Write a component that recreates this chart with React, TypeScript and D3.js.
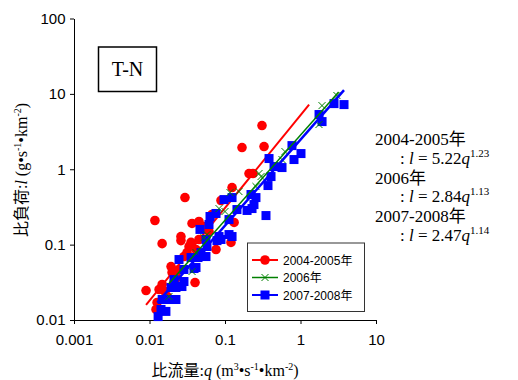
import React, { useRef, useEffect } from 'react';
import * as d3 from 'd3';

// ---- data ----
const seriesNames = ['2004-2005年', '2006年', '2007-2008年'];
const seriesColors = ['#FF0000', '#008000', '#0000FF'];

const redQ = [0.009, 0.0118, 0.0147, 0.0261, 0.0261, 0.0295, 0.0366, 0.0334, 0.0401, 0.168, 0.309, 0.329, 0.208, 0.235, 0.124, 0.0885, 0.0673, 0.0452, 0.0527, 0.0614, 0.132, 0.12, 0.076, 0.0193, 0.0199, 0.0147, 0.0134, 0.0126, 0.0122, 0.0314, 0.0286, 0.0246, 0.0231, 0.0171, 0.0355, 0.0413, 0.0211, 0.016, 0.0452];
const redL = [0.0246, 0.209, 0.103, 0.128, 0.113, 0.421, 0.191, 0.094, 0.0314, 1.94, 3.8, 2.0, 0.877, 0.877, 0.572, 0.385, 0.251, 0.203, 0.174, 0.149, 0.197, 0.107, 0.086, 0.0512, 0.0427, 0.0296, 0.0254, 0.0171, 0.0138, 0.0785, 0.0695, 0.0468, 0.0366, 0.0205, 0.107, 0.086, 0.0314, 0.0239, 0.117];

const greenQ = [0.0181, 0.0366, 0.0413, 0.0527, 0.0577, 0.0833, 0.1, 0.1165, 0.153, 0.257, 0.282, 0.3, 0.569, 0.623, 1.758, 1.927, 3.04];
const greenL = [0.0205, 0.044, 0.0785, 0.124, 0.136, 0.301, 0.275, 0.491, 0.506, 0.59, 0.877, 0.8, 1.345, 1.717, 3.92, 6.99, 9.5];

const blueQ = [2.78, 3.77, 1.76, 1.93, 0.771, 1.015, 0.82, 0.383, 0.569, 0.446, 0.407, 0.371, 0.221, 0.242, 0.196, 0.349, 0.257, 0.228, 0.144, 0.097, 0.124, 0.113, 0.113, 0.076, 0.0633, 0.0614, 0.0833, 0.0783, 0.0577, 0.0466, 0.0481, 0.056, 0.056, 0.0885, 0.124, 0.0413, 0.0246, 0.0286, 0.0355, 0.0211, 0.0286, 0.0269, 0.0224, 0.0147, 0.0181, 0.0224, 0.0142, 0.0165, 0.013, 0.0439, 0.0389, 0.0193];
const blueL = [7.43, 7.21, 5.32, 4.29, 2.06, 1.615, 1.345, 1.387, 1.053, 1.086, 0.8, 0.608, 0.462, 0.34, 0.284, 0.243, 0.421, 0.301, 0.292, 0.396, 0.421, 0.215, 0.136, 0.259, 0.236, 0.185, 0.128, 0.113, 0.0944, 0.159, 0.0785, 0.117, 0.0695, 0.117, 0.128, 0.0497, 0.0634, 0.0468, 0.0674, 0.0344, 0.0324, 0.0278, 0.027, 0.0187, 0.0187, 0.0187, 0.0138, 0.013, 0.0111, 0.0674, 0.0482, 0.027];

// power-law fits l = a q^b
const fitA = [5.22, 2.84, 2.47];
const fitB = [1.23, 1.13, 1.14];
const fitQmin = [0.009, 0.018, 0.0127];
const fitQmax = [1.3, 3.2, 3.77];

const xTickValues = [0.001, 0.01, 0.1, 1, 10];
const xTickLabels = ['0.001', '0.01', '0.1', '1', '10'];
const yTickValues = [0.01, 0.1, 1, 10, 100];
const yTickLabels = ['0.01', '0.1', '1', '10', '100'];

const SANS = '"Liberation Sans", Arial, "Noto Sans CJK JP", sans-serif';
const SERIF = '"Liberation Serif", "Times New Roman", "Noto Sans CJK JP", serif';

export default function App() {
  const gx = useRef<SVGGElement>(null);
  const gy = useRef<SVGGElement>(null);

  const x = d3.scaleLog().domain([0.001, 10]).range([74, 376]);
  const y = d3.scaleLog().domain([0.01, 100]).range([320, 18.5]);

  useEffect(() => {
    const ax = d3.axisBottom(x).tickValues(xTickValues)
      .tickFormat((d, i) => xTickLabels[i]).tickSize(4).tickSizeOuter(0).tickPadding(10.5);
    const gX = d3.select(gx.current!);
    gX.call(ax as any);
    gX.attr('font-family', SANS).attr('font-size', 15);
    gX.selectAll('path,line').attr('stroke', '#000');
    gX.selectAll('text').attr('fill', '#000');

    const ay = d3.axisLeft(y).tickValues(yTickValues)
      .tickFormat((d, i) => yTickLabels[i]).tickSize(4).tickSizeOuter(0).tickPadding(4.5);
    const gY = d3.select(gy.current!);
    gY.call(ay as any);
    gY.attr('font-family', SANS).attr('font-size', 15);
    gY.selectAll('path,line').attr('stroke', '#000');
    gY.selectAll('text').attr('fill', '#000');
  }, []);

  const line = d3.line<[number, number]>().x(d => x(d[0])).y(d => y(d[1]));
  const fitPath = (i: number) => line([fitQmin[i], fitQmax[i]].map(q => [q, fitA[i] * Math.pow(q, fitB[i])] as [number, number]));

  const circle = (cx: number, cy: number, key: any, r = 4.8) => (
    <circle key={key} cx={cx} cy={cy} r={r} fill="#FF0000" />
  );
  const square = (cx: number, cy: number, key: any, s = 9) => (
    <rect key={key} x={cx - s / 2} y={cy - s / 2} width={s} height={s} fill="#0000FF" />
  );
  const cross = (cx: number, cy: number, key: any, s = 3.5) => (
    <path key={key} d={`M${cx - s},${cy - s}L${cx + s},${cy + s}M${cx - s},${cy + s}L${cx + s},${cy - s}`} stroke="#008000" strokeWidth={1} fill="none" />
  );

  const legendRows = [260, 277.5, 295];

  return (
    <svg width={518} height={380} style={{ position: 'absolute', left: 0, top: 0, background: '#fff' }}>
      <rect width={518} height={380} fill="#fff" />
      <g ref={gx} transform="translate(0,320)" />
      <g ref={gy} transform="translate(74,0)" />

      {/* red series */}
      {redQ.map((q, i) => circle(x(q), y(redL[i]), 'r' + i))}
      <path d={fitPath(0) || ''} stroke={seriesColors[0]} strokeWidth={2} fill="none" />
      {/* blue series */}
      {blueQ.map((q, i) => square(x(q), y(blueL[i]), 'b' + i))}
      {/* green series */}
      {greenQ.map((q, i) => cross(x(q), y(greenL[i]), 'g' + i))}
      <path d={fitPath(1) || ''} stroke={seriesColors[1]} strokeWidth={1.5} fill="none" />
      <path d={fitPath(2) || ''} stroke={seriesColors[2]} strokeWidth={2.5} fill="none" />

      {/* T-N box */}
      <rect x={98.5} y={47} width={58} height={44.5} fill="#fff" stroke="#000" strokeWidth={1.5} />
      <text x={127.5} y={76} textAnchor="middle" fontFamily={SERIF} fontSize={20}>T-N</text>

      {/* legend */}
      <rect x={247.5} y={243} width={117} height={68.5} fill="#fff" stroke="#333" strokeWidth={1} />
      {legendRows.map((ly, i) => (
        <g key={'lg' + i}>
          <line x1={252} x2={278} y1={ly} y2={ly} stroke={seriesColors[i]} strokeWidth={i === 1 ? 1.5 : 2} />
          {i === 0 && circle(265, ly, 'lc', 4.8)}
          {i === 1 && cross(265, ly, 'lx', 3.5)}
          {i === 2 && square(265, ly, 'ls', 9)}
          <text x={283} y={ly + 4.5} fontFamily={SANS} fontSize={12} fill="#000">{seriesNames[i]}</text>
        </g>
      ))}

      {/* equations */}
      {seriesNames.map((name, i) => (
        <g key={'eq' + i} fontFamily={SERIF} fontSize={17} fill="#000">
          <text x={375} y={145 + i * 38.5}>{name}</text>
          <text x={400} y={163.5 + i * 38.5}>
            {': '}<tspan fontStyle="italic">l</tspan>{' = ' + fitA[i].toFixed(2)}<tspan fontStyle="italic">q</tspan>
            <tspan fontSize={11} dy={-7}>{fitB[i].toFixed(2)}</tspan>
          </text>
        </g>
      ))}

      {/* axis titles */}
      <text x={225} y={376} textAnchor="middle" fontFamily={SERIF} fontSize={16} fill="#000">
        比流量:<tspan fontStyle="italic">q</tspan> (m<tspan fontSize={10} dy={-6}>3</tspan><tspan dy={6}>•s</tspan><tspan fontSize={10} dy={-6}>-1</tspan><tspan dy={6}>•km</tspan><tspan fontSize={10} dy={-6}>-2</tspan><tspan dy={6}>)</tspan>
      </text>
      <text transform="translate(27,170) rotate(-90)" textAnchor="middle" fontFamily={SERIF} fontSize={16} fill="#000">
        比負荷:<tspan fontStyle="italic">l</tspan> (g•s<tspan fontSize={10} dy={-6}>-1</tspan><tspan dy={6}>•km</tspan><tspan fontSize={10} dy={-6}>-2</tspan><tspan dy={6}>)</tspan>
      </text>
    </svg>
  );
}
